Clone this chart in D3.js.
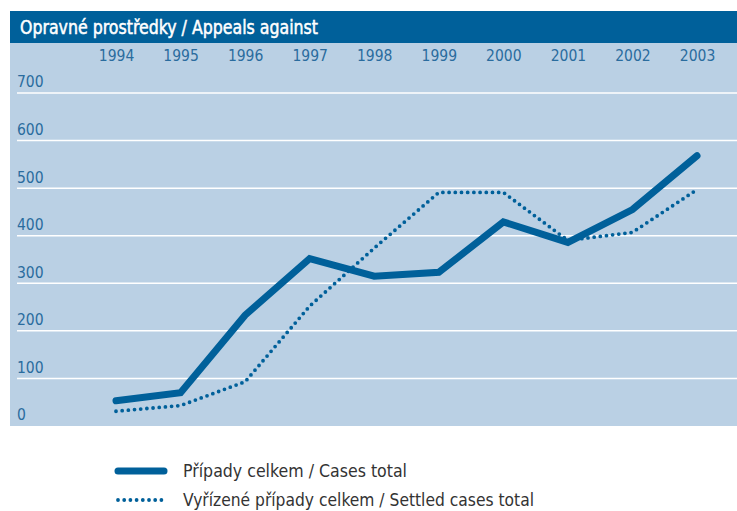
<!DOCTYPE html>
<html><head><meta charset="utf-8">
<script src="https://cdn.jsdelivr.net/npm/d3@7"></script>
<style>body{margin:0;background:#fff}svg{display:block}</style>
</head><body>
<script>
const years = ["1994","1995","1996","1997","1998","1999","2000","2001","2002","2003"];
const casesTotal = [53, 70, 233, 352, 315, 323, 429, 386, 455, 568];
const settledTotal = [31, 43, 93, 252, 374, 491, 491, 390, 407, 497];
const yTicks = [0, 100, 200, 300, 400, 500, 600, 700];
const title = "Opravné prostředky / Appeals against";
const legendLabels = ["Případy celkem / Cases total", "Vyřízené případy celkem / Settled cases total"];

const W = 737, H = 511;
const font = "'Liberation Sans Narrow','DejaVu Sans Condensed',sans-serif";
const dark = "#00609a", panel = "#bad0e4", tickCol = "#2a6c9e";

const svg = d3.select("body").append("svg").attr("width", W).attr("height", H);

svg.append("rect").attr("x", 10).attr("y", 43).attr("width", W - 10).attr("height", 383).attr("fill", panel);
svg.append("rect").attr("x", 10).attr("y", 11).attr("width", W - 10).attr("height", 32).attr("fill", dark);
svg.append("text").attr("x", 20).attr("y", 34).attr("fill", "#fff")
  .attr("stroke", "#fff").attr("stroke-width", 0.5)
  .attr("font-family", font).attr("font-size", 19.5)
  .attr("textLength", 298).attr("lengthAdjust", "spacingAndGlyphs").text(title);

const x = d3.scalePoint().domain(years).range([116, 697]);
const y = d3.scaleLinear().domain([0, 700]).range([426, 93]);

// gridlines
svg.append("g").selectAll("line").data(yTicks.filter(d => d > 0)).join("line")
  .attr("x1", 17).attr("x2", W).attr("y1", d => y(d)).attr("y2", d => y(d))
  .attr("stroke", "#fff").attr("stroke-width", 1.5);

// y labels
svg.append("g").selectAll("text").data(yTicks).join("text")
  .attr("x", 17).attr("y", d => y(d) - 11).attr("dy", "0.35em")
  .attr("fill", tickCol).attr("font-family", font).attr("font-size", 15.5)
  .text(d => d);

// x labels via axis
const xAxis = svg.append("g").attr("transform", "translate(0,56)")
  .call(d3.axisTop(x).tickSize(0).tickPadding(0));
xAxis.select(".domain").remove();
xAxis.selectAll("text").attr("fill", tickCol).attr("font-family", font).attr("font-size", 15.5)
  .attr("dy", "0.35em");

const line = d3.line().x((d, i) => x(years[i])).y(d => y(d));

svg.append("path").datum(settledTotal).attr("d", line).attr("fill", "none")
  .attr("stroke", dark).attr("stroke-width", 3.8).attr("stroke-linecap", "round")
  .attr("stroke-dasharray", "0 6.2");
svg.append("path").datum(casesTotal).attr("d", line).attr("fill", "none")
  .attr("stroke", dark).attr("stroke-width", 7).attr("stroke-linecap", "round")
  .attr("stroke-linejoin", "miter");

// legend
const lg = svg.append("g");
lg.append("line").attr("x1", 118).attr("x2", 164).attr("y1", 471).attr("y2", 471)
  .attr("stroke", dark).attr("stroke-width", 7).attr("stroke-linecap", "round");
lg.append("line").attr("x1", 118).attr("x2", 164).attr("y1", 500).attr("y2", 500)
  .attr("stroke", dark).attr("stroke-width", 3.8).attr("stroke-linecap", "round")
  .attr("stroke-dasharray", "0 6.2");
lg.selectAll("text").data(legendLabels).join("text")
  .attr("x", 183).attr("y", (d, i) => 471 + i * 29).attr("dy", "0.35em")
  .attr("fill", "#333").attr("font-family", font).attr("font-size", 18)
  .attr("textLength", (d, i) => i ? 351 : 224).attr("lengthAdjust", "spacingAndGlyphs")
  .text(d => d);
</script>
</body></html>
